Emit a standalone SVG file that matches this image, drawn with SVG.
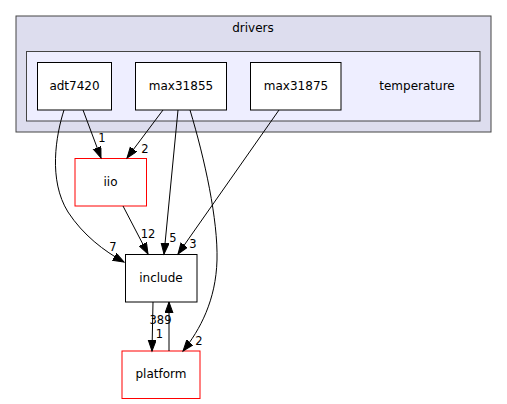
<svg xmlns="http://www.w3.org/2000/svg" width="507" height="404" viewBox="0 0 507 404">
  <style>
    text { font-family: "DejaVu Sans", "Liberation Sans", sans-serif; font-size: 12px; fill: #000; }
    .lbl { font-size: 11.5px; }
    .node { fill: #fff; stroke: #000; stroke-width: 1; }
    .red { fill: #fff; stroke: #ff0000; stroke-width: 1; }
    .edge { fill: none; stroke: #000; stroke-width: 1; marker-end: url(#arrow); }
    .mid { text-anchor: middle; }
  </style>
  <defs>
    <marker id="arrow" markerUnits="userSpaceOnUse" markerWidth="13" markerHeight="10" refX="11" refY="4" orient="auto">
      <path d="M0,0 L11,4 L0,8 Z" fill="#000" stroke="#000"/>
    </marker>
  </defs>

  <g id="cluster_drivers">
    <rect x="16" y="16" width="475" height="116" fill="#ddddee" stroke="#444"/>
    <text x="253" y="32" class="mid">drivers</text>
  </g>
  <g id="cluster_temperature">
    <rect x="26.5" y="51.5" width="453.5" height="69.5" fill="#eeeeff" stroke="#444"/>
    <text x="417" y="90" class="mid">temperature</text>
  </g>

  <g id="node_adt7420">
    <rect x="37.5" y="62.5" width="74" height="47.5" class="node"/>
    <text x="74.5" y="90" class="mid">adt7420</text>
  </g>
  <g id="node_max31855">
    <rect x="135.5" y="62.5" width="91" height="47.5" class="node"/>
    <text x="181" y="90" class="mid">max31855</text>
  </g>
  <g id="node_max31875">
    <rect x="250.5" y="62.5" width="90.5" height="47.5" class="node"/>
    <text x="296" y="90" class="mid">max31875</text>
  </g>
  <g id="node_iio">
    <rect x="75" y="158.5" width="71.5" height="47.5" class="red"/>
    <text x="110.5" y="186" class="mid">iio</text>
  </g>
  <g id="node_include">
    <rect x="125.5" y="254.5" width="71.5" height="47.5" class="node"/>
    <text x="161" y="282" class="mid">include</text>
  </g>
  <g id="node_platform">
    <rect x="122" y="351" width="78" height="47.5" class="red"/>
    <text x="161" y="378" class="mid">platform</text>
  </g>

  <g id="edges">
    <!-- adt7420 -> iio -->
    <path class="edge" d="M83,110 L101,158"/>
    <text x="102" y="142" class="mid lbl">1</text>
    <!-- max31855 -> iio -->
    <path class="edge" d="M163,110 L127,158"/>
    <text x="145" y="153" class="mid lbl">2</text>
    <!-- adt7420 -> include -->
    <path class="edge" d="M64,110 C56,135 48,180 68,212 C83,235 104,251 124,262"/>
    <text x="113" y="251" class="mid lbl">7</text>
    <!-- max31855 -> include -->
    <path class="edge" d="M178,110 L164,254"/>
    <text x="173" y="242" class="mid lbl">5</text>
    <!-- max31855 -> platform -->
    <path class="edge" d="M190,110 C205,160 218,220 217,260 C216,300 200,330 183,351"/>
    <text x="199" y="345" class="mid lbl">2</text>
    <!-- max31875 -> include -->
    <path class="edge" d="M279,110 L178,254"/>
    <text x="193" y="248" class="mid lbl">3</text>
    <!-- iio -> include -->
    <path class="edge" d="M123,206 L148,254"/>
    <text x="148" y="238" class="mid lbl">12</text>
    <!-- include -> platform -->
    <path class="edge" d="M153,302 L152,351"/>
    <text x="160.5" y="323.5" class="mid lbl">389</text>
    <text x="159.5" y="337.5" class="mid lbl">1</text>
    <!-- platform -> include -->
    <path class="edge" d="M169,351 L169,302"/>
  </g>
</svg>
